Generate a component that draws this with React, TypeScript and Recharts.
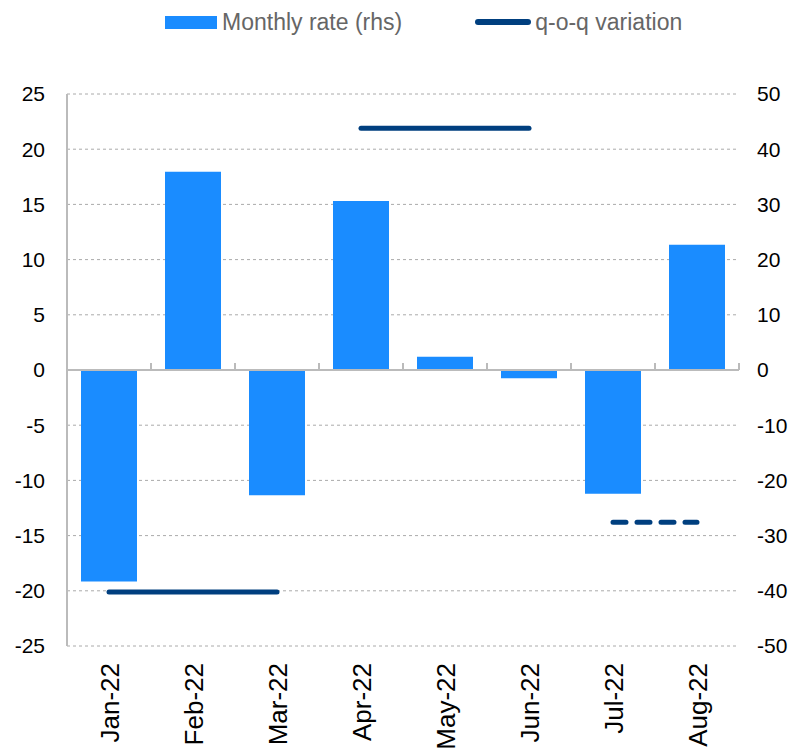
import React from 'react';
import {
  ComposedChart,
  Bar,
  Line,
  XAxis,
  YAxis,
  CartesianGrid,
  ReferenceLine,
} from 'recharts';

const months = ['Jan-22', 'Feb-22', 'Mar-22', 'Apr-22', 'May-22', 'Jun-22', 'Jul-22', 'Aug-22'];
const monthlyRate = [-38.3, 35.9, -22.7, 30.6, 2.4, -1.5, -22.4, 22.7];
const qoqQ1 = [-20.1, -20.1, -20.1, null, null, null, null, null];
const qoqQ2 = [null, null, null, 21.9, 21.9, 21.9, null, null];
const qoqQ3 = [null, null, null, null, null, null, -13.8, -13.8];
const leftTicks = [-25, -20, -15, -10, -5, 0, 5, 10, 15, 20, 25];
const rightTicks = [-50, -40, -30, -20, -10, 0, 10, 20, 30, 40, 50];

const data = months.map((m, i) => ({
  month: m,
  rate: monthlyRate[i],
  q1: qoqQ1[i],
  q2: qoqQ2[i],
  q3: qoqQ3[i],
}));

const W = 802;
const H = 755;
const PLOT_LEFT = 67;
const PLOT_RIGHT = 739;
const PLOT_TOP = 94;
const PLOT_BOTTOM = 646;
const BAND = (PLOT_RIGHT - PLOT_LEFT) / months.length;
const ZERO_Y = (PLOT_TOP + PLOT_BOTTOM) / 2;

const BAR_COLOR = '#1a8cff';
const LINE_COLOR = '#003f7f';
const FONT = '"Liberation Sans", Arial, sans-serif';

const MonthTick = (props: any) => {
  const { x, y, payload, index } = props;
  const left = x - BAND / 2;
  return (
    <g>
      <line x1={left} x2={left} y1={ZERO_Y} y2={ZERO_Y - 7} stroke="#bbb" strokeWidth={2} />
      {index === months.length - 1 && (
        <line x1={left + BAND} x2={left + BAND} y1={ZERO_Y} y2={ZERO_Y - 7} stroke="#bbb" strokeWidth={2} />
      )}
      <text
        x={x + 1}
        y={y}
        transform={`rotate(-90, ${x + 1}, ${y})`}
        textAnchor="end"
        dominantBaseline="central"
        fill="#000"
        fontSize={26}
        fontFamily={FONT}
      >
        {payload.value}
      </text>
    </g>
  );
};

export default function App() {
  return (
    <div style={{ position: 'absolute', left: 0, top: 0, width: W, height: H, background: '#fff' }}>
      <div
        style={{
          position: 'absolute',
          top: 8,
          left: 165,
          display: 'flex',
          alignItems: 'center',
          fontFamily: FONT,
          fontSize: 23,
          color: '#666',
          height: 28,
        }}
      >
        <span style={{ display: 'inline-block', width: 52, height: 13, background: BAR_COLOR, marginRight: 5 }} />
        <span>Monthly rate (rhs)</span>
        <span
          style={{
            display: 'inline-block',
            width: 56,
            height: 6,
            borderRadius: 3,
            background: LINE_COLOR,
            marginLeft: 73,
            marginRight: 4,
          }}
        />
        <span>q-o-q variation</span>
      </div>
      <ComposedChart
        width={W}
        height={H}
        data={data}
        margin={{ top: PLOT_TOP, right: 0, bottom: 0, left: 0 }}
        barSize={56}
      >
        <CartesianGrid vertical={false} stroke="#aaa" strokeDasharray="3 3" yAxisId="left" />
        <XAxis
          dataKey="month"
          height={H - PLOT_BOTTOM}
          axisLine={false}
          tickLine={false}
          tickSize={0}
          tickMargin={17}
          interval={0}
          tick={<MonthTick />}
        />
        <YAxis
          yAxisId="left"
          orientation="left"
          width={PLOT_LEFT}
          domain={[-25, 25]}
          ticks={leftTicks}
          interval={0}
          axisLine={{ stroke: '#bbb', strokeWidth: 2 }}
          tickLine={false}
          tickSize={0}
          tickMargin={22}
          tick={{ fill: '#000', fontSize: 21, fontFamily: FONT }}
        />
        <YAxis
          yAxisId="right"
          orientation="right"
          width={W - PLOT_RIGHT}
          domain={[-50, 50]}
          ticks={rightTicks}
          interval={0}
          axisLine={false}
          tickLine={false}
          tickSize={0}
          tickMargin={18}
          tick={{ fill: '#000', fontSize: 21, fontFamily: FONT, textAnchor: 'start' }}
        />
        <Bar yAxisId="right" dataKey="rate" fill={BAR_COLOR} isAnimationActive={false} />
        <ReferenceLine yAxisId="left" y={0} stroke="#bbb" strokeWidth={2} />
        <Line
          yAxisId="left"
          dataKey="q1"
          stroke={LINE_COLOR}
          strokeWidth={5}
          strokeLinecap="round"
          dot={false}
          activeDot={false}
          connectNulls={false}
          isAnimationActive={false}
        />
        <Line
          yAxisId="left"
          dataKey="q2"
          stroke={LINE_COLOR}
          strokeWidth={5}
          strokeLinecap="round"
          dot={false}
          activeDot={false}
          connectNulls={false}
          isAnimationActive={false}
        />
        <Line
          yAxisId="left"
          dataKey="q3"
          stroke={LINE_COLOR}
          strokeWidth={5}
          strokeLinecap="round"
          strokeDasharray="13 11"
          dot={false}
          activeDot={false}
          connectNulls={false}
          isAnimationActive={false}
        />
      </ComposedChart>
    </div>
  );
}
